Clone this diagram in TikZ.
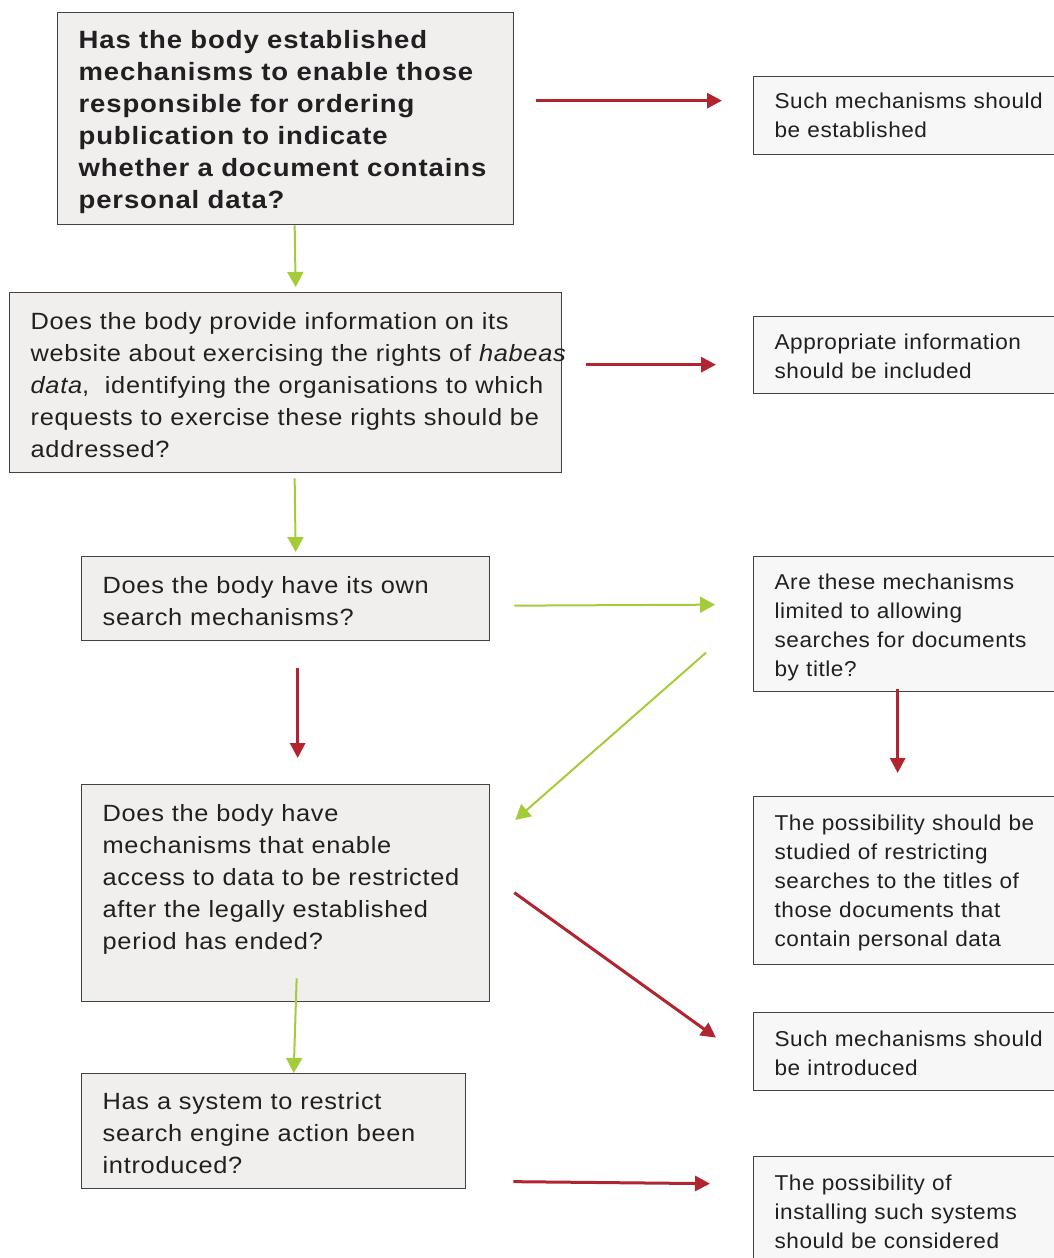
\documentclass[tikz,border=0pt]{standalone}
\usepackage{fontspec}
\setmainfont{Liberation Sans}
\usepackage{tikz}
\usetikzlibrary{arrows.meta,positioning}
\definecolor{inkgray}{HTML}{231F20}
\definecolor{qfill}{HTML}{F0EFEE}
\definecolor{afill}{HTML}{F6F7F6}
\definecolor{noRed}{HTML}{B0252F}
\definecolor{yesGreen}{HTML}{A4CC3A}
\tikzset{
  qbox/.style={draw=inkgray!85, line width=1.3pt, fill=qfill, anchor=north west,
    inner xsep=21pt, inner ysep=0pt, align=left, text=inkgray,
    font=\fontsize{23.5}{32}\selectfont\addfontfeature{FakeStretch=1.08,LetterSpace=3}, text height=37pt},
  abox/.style={draw=inkgray!85, line width=1.3pt, fill=afill, anchor=north west,
    inner xsep=21pt, inner ysep=0pt, align=left, text=inkgray, text width=288pt,
    font=\fontsize{21.5}{29}\selectfont\addfontfeature{FakeStretch=1.05,LetterSpace=2.5}, text height=33pt},
  noarr/.style={draw=noRed, line width=3pt, -{Triangle[length=15pt,width=15pt]}},
  yesarr/.style={draw=yesGreen, line width=2pt, -{Triangle[length=15pt,width=16pt]}},
}

\begin{document}
\begin{tikzpicture}[x=1pt,y=1pt]
	\useasboundingbox (0,0) rectangle (1054,-1258);
	\clip (0,0) rectangle (1054,-1258);
	%Questions
	\node[qbox, text width=414pt, text height=36pt, text depth=176pt,
	  font=\fontsize{25}{32}\selectfont\bfseries\addfontfeature{FakeStretch=1.10,LetterSpace=3.5}] (b1) at (57,-12)
	  {Has the body established\\mechanisms to enable those\\responsible for ordering\\publication to indicate\\whether a document contains\\personal data?};
	\node[qbox, text width=510pt, text depth=143pt] (b2) at (9,-292)
	  {Does the body provide information on its\\\mbox{website about exercising the rights of \textit{habeas}}\\\textit{data}, \ identifying the organisations to which\\requests to exercise these rights should be\\addressed?};
	\node[qbox, text width=366pt, text depth=47pt] (b3) at (81,-556)
	  {Does the body have its own\\search mechanisms?};
	\node[qbox, text width=366pt, text depth=180pt] (b4) at (81,-784)
	  {Does the body have\\mechanisms that enable\\\mbox{access to data to be restricted}\\after the legally established\\period has ended?};
	\node[qbox, text width=342pt, text height=36pt, text depth=79pt] (b5) at (81,-1073)
	  {Has a system to restrict\\search engine action been\\introduced?};
	%Answers
	\node[abox, text height=32pt, text depth=46pt] (r1) at (753,-76)
	  {Such mechanisms should\\be established};
	\node[abox, text depth=44pt] (r2) at (753,-316)
	  {Appropriate information\\should be included};
	\node[abox, text depth=102pt] (r3) at (753,-556)
	  {Are these mechanisms\\limited to allowing\\searches for documents\\by title?};
	\node[abox, text height=34pt, text depth=134pt] (r4) at (753,-796)
	  {The possibility should be\\studied of restricting\\searches to the titles of\\those documents that\\contain personal data};
	\node[abox, text height=34pt, text depth=44pt] (r5) at (753,-1012)
	  {Such mechanisms should\\be introduced};
	\node[abox, text height=34pt, text depth=96pt] (r6) at (753,-1156)
	  {The possibility of\\installing such systems\\should be considered};
	%Arrows
	\draw[noarr] ([xshift=22,yshift=18]b1.east) -- ([xshift=-31,yshift=15]r1.west);
	\draw[yesarr] ([xshift=9]b1.south) -- ([xshift=10,yshift=5]b2.north);
	\draw[noarr] ([xshift=24,yshift=18]b2.east) -- ([xshift=-37,yshift=-9.5]r2.west);
	\draw[yesarr] ([xshift=9,yshift=-5]b2.south) -- ([xshift=10,yshift=4]b3.north);
	\draw[yesarr] ([xshift=24,yshift=-7]b3.east) -- ([xshift=-38,yshift=19.5]r3.west);
	\draw[noarr] ([xshift=12,yshift=-27]b3.south) -- ([xshift=12,yshift=26]b4.north);
	\draw[yesarr] ([xshift=-47,yshift=-28.5]r3.west) -- ([xshift=25,yshift=-36]b4.north east);
	\draw[noarr] ([xshift=-21,yshift=3]r3.south) -- ([xshift=-21,yshift=23]r4.north);
	\draw[noarr] ([xshift=24,yshift=0.5]b4.east) -- ([xshift=-37,yshift=14]r5.west);
	\draw[yesarr] ([xshift=11,yshift=24]b4.south) -- ([xshift=20]b5.north);
	\draw[noarr] ([xshift=47,yshift=-50.5]b5.east) -- ([xshift=-43,yshift=38]r6.west);
\end{tikzpicture}
\end{document}
